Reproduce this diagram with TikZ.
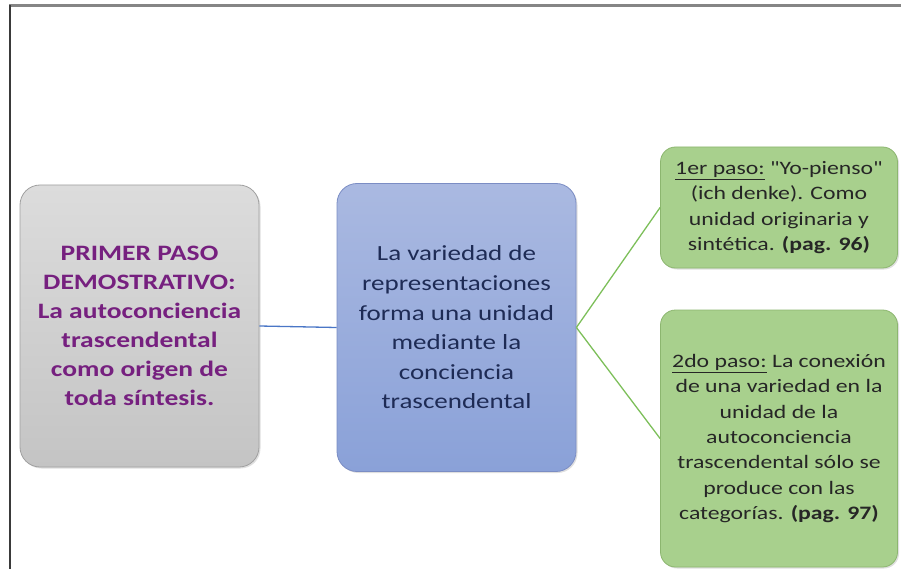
\documentclass[tikz,border=0pt]{standalone}
\usepackage{fontspec}
\setmainfont{Carlito}
\newfontfamily\cf[FakeStretch=1.25]{Carlito}
\usetikzlibrary{shadows}
\definecolor{grayfillA}{HTML}{DCDCDC}
\definecolor{grayfillB}{HTML}{C4C4C4}
\definecolor{grayline}{HTML}{A0A0A0}
\definecolor{bluefillA}{HTML}{AAB9E1}
\definecolor{bluefillB}{HTML}{8AA1D8}
\definecolor{blueline}{HTML}{7B8DC4}
\definecolor{greenfill}{HTML}{A8D08D}
\definecolor{greenline}{HTML}{8CB66F}
\definecolor{purpletext}{HTML}{76207F}
\definecolor{navytext}{HTML}{1E2B55}
\definecolor{darktext}{HTML}{262626}
\definecolor{linkblue}{HTML}{4A76C6}
\definecolor{linkgreen}{HTML}{7DBF5A}
\definecolor{frametop}{HTML}{858585}
\definecolor{frameleft}{HTML}{3A3A3A}
\tikzset{
  box/.style={rounded corners=20pt, line width=0.8pt, align=center, inner sep=0pt,
    drop shadow={shadow xshift=1.5pt, shadow yshift=-1.5pt, opacity=0.25}},
  graybox/.style={box, draw=grayline, top color=grayfillA, bottom color=grayfillB,
    text=purpletext, font=\cf\fontsize{22}{29}\selectfont\bfseries},
  bluebox/.style={box, draw=blueline, top color=bluefillA, bottom color=bluefillB,
    text=navytext, font=\cf\fontsize{21.6}{29.6}\selectfont},
  greenbox/.style={box, rounded corners=15pt, draw=greenline, fill=greenfill,
    text=darktext, font=\cf\fontsize{19}{25.4}\selectfont},
  link/.style={line width=1.3pt}
}
\begin{document}
\begin{tikzpicture}[x=1pt,y=-1pt]
\useasboundingbox (0,0) rectangle (901,569);
\draw[frametop, line width=3pt] (9,6) -- (901,6);
\draw[frameleft, line width=2pt] (10,5) -- (10,569);

\node[graybox, minimum width=239pt, minimum height=282pt] (g) at (139.5,326)
  {PRIMER PASO\\DEMOSTRATIVO:\\La autoconciencia\\trascendental\\como origen de\\toda síntesis.};
\node[bluebox, minimum width=239pt, minimum height=288pt] (b) at (456.5,327.5)
  {La variedad de\\representaciones\\forma una unidad\\mediante la\\conciencia\\trascendental};
\node[greenbox, minimum width=237pt, minimum height=121pt] (s1) at (779,207.5)
  {\underline{1er paso:} "Yo-pienso"\\(ich denke). Como\\unidad originaria y\\sintética. \textbf{(pag. 96)}};
\node[greenbox, minimum width=237pt, minimum height=257pt] (s2) at (779,438.5)
  {\underline{2do paso:} La conexión\\de una variedad en la\\unidad de la\\autoconciencia\\trascendental sólo se\\produce con las\\categorías. \textbf{(pag. 97)}};

\draw[link, linkblue] (g.east) -- (b.west);
\draw[link, linkgreen] (b.east) -- (s1.west);
\draw[link, linkgreen] (b.east) -- (s2.west);
\end{tikzpicture}
\end{document}
